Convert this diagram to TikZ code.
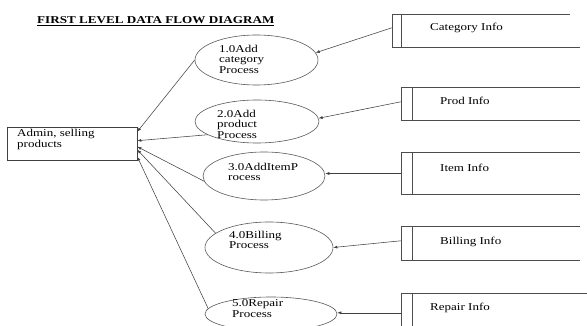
\documentclass[tikz,border=0pt]{standalone}
\usepackage{fontspec}
\setmainfont{Liberation Serif}
\usepackage{graphicx}
\usetikzlibrary{shapes.geometric,arrows.meta,calc}
\newcommand{\dtxt}[1]{\scalebox{1.24}[1]{\begin{tabular}{@{}l@{}}#1\end{tabular}}}
\tikzset{
  every node/.style={font=\fontsize{10.5}{10.5}\selectfont},
  lbl/.style={inner sep=0pt, anchor=west, text=black},
  proc/.style={ellipse, draw=black!65, line width=0.6pt, inner sep=0pt},
  entity/.style={rectangle, draw=black!75, line width=0.6pt, inner sep=0pt},
  stbox/.style={rectangle, inner sep=0pt},
  stline/.style={draw=black!70, line width=0.6pt},
  flow/.style={draw=black!75, line width=0.55pt, -{Latex[length=4pt,width=3pt]}},
}
\begin{document}
\begin{tikzpicture}[x=1pt,y=-1pt]
\useasboundingbox (0,0) rectangle (587,326);
% title
\node[inner sep=0pt, anchor=base west, font=\fontsize{10.5}{10.5}\selectfont\bfseries] (title) at (37,24)
  {\scalebox{1.25}[1]{\underline{FIRST LEVEL DATA FLOW DIAGRAM}}};
% external entity
\node[entity, minimum width=130pt, minimum height=33pt] (a) at (72,143.5) {};
\node[lbl] (at) at (17,140) {\dtxt{Admin, selling\\products}};
% processes
\node[proc, minimum width=123pt, minimum height=50pt] (p1) at (256.5,60) {};
\node[proc, minimum width=124pt, minimum height=43pt] (p2) at (257,121.5) {};
\node[proc, minimum width=122pt, minimum height=48pt] (p3) at (264,176) {};
\node[proc, minimum width=128pt, minimum height=51pt] (p4) at (269,247.5) {};
\node[proc, minimum width=132pt, minimum height=34pt] (p5) at (271,314) {};
\node[lbl] (t1) at (219,60.5) {\dtxt{1.0Add\\category\\Process}};
\node[lbl] (t2) at (217,125.5) {\dtxt{2.0Add\\product\\Process}};
\node[lbl] (t3) at (228,173.5) {\dtxt{3.0AddItemP\\rocess}};
\node[lbl] (t4) at (229,241.5) {\dtxt{4.0Billing\\Process}};
\node[lbl] (t5) at (232,310) {\dtxt{5.0Repair\\Process}};
% data stores
\node[stbox, minimum width=188pt, minimum height=32pt] (s1) at (486,31) {};
\node[stbox, minimum width=179pt, minimum height=32pt] (s2) at (490.5,104) {};
\node[stbox, minimum width=179pt, minimum height=41pt] (s3) at (490.5,173.5) {};
\node[stbox, minimum width=179pt, minimum height=33pt] (s4) at (490.5,243.5) {};
\node[stbox, minimum width=186pt, minimum height=47pt] (s5) at (494,316.5) {};
\draw[stline] ($(s1.north east)+(-10,0)$) -- (s1.north west) -- (s1.south west) -- (s1.south east);
\draw[stline] ($(s1.north west)+(9,0)$) -- ($(s1.south west)+(9,0)$);
\foreach \s in {s2,s3,s4}{
  \draw[stline] (\s.north east) -- (\s.north west) -- (\s.south west) -- (\s.south east);
  \draw[stline] ($(\s.north west)+(11,0)$) -- ($(\s.south west)+(11,0)$);
}
\draw[stline] (s5.north east) -- (s5.north west) -- (s5.south west);
\draw[stline] ($(s5.north west)+(11,0)$) -- ($(s5.south west)+(11,0)$);
\node[lbl] (l1) at (430,28) {\dtxt{Category Info}};
\node[lbl] (l2) at (440,102) {\dtxt{Prod Info}};
\node[lbl] (l3) at (440,169) {\dtxt{Item Info}};
\node[lbl] (l4) at (440,242) {\dtxt{Billing Info}};
\node[lbl] (l5) at (430,308) {\dtxt{Repair Info}};
% flows from stores to processes
\coordinate (c1) at ($(s1.north west)+(0,13)$);
\coordinate (c2) at ($(s2.north west)+(0,14)$);
\coordinate (c4) at ($(s4.north west)+(0,14)$);
\coordinate (c5) at ($(s5.north west)+(0,20)$);
\draw[flow] (c1) -- (p1.7);
\draw[flow] (c2) -- (p2.3);
\draw[flow] (s3.west) -- (s3.west -| p3.east);
\draw[flow] (c4) -- (p4.east);
\draw[flow] (c5) -- (c5 -| p5.east);
% flows from processes to entity
\draw[flow] (p1.west) -- ($(a.north east)+(0,5)$);
\draw[flow] (p2.195) -- ($(a.north east)+(0,14)$);
\draw[flow] (p3.185) -- ($(a.north east)+(0,20)$);
\draw[flow] (p4.165) -- ($(a.north east)+(0,23)$);
\draw[flow] (p5.175) -- ($(a.north east)+(0,30)$);
\end{tikzpicture}
\end{document}
